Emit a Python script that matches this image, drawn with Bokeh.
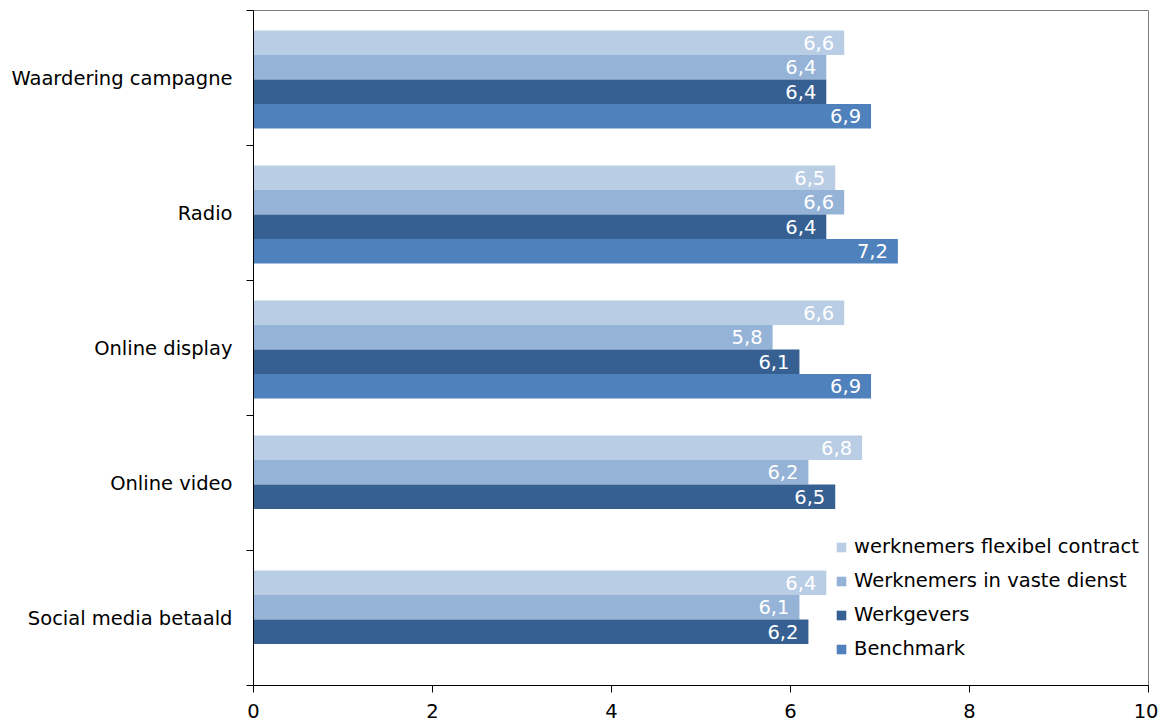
from bokeh.plotting import figure
from bokeh.models import ColumnDataSource, Range1d, FixedTicker, Legend, LegendItem, LabelSet
from bokeh.core.properties import value
from bokeh.embed import file_html
from bokeh.resources import INLINE

categories = ["Waardering campagne", "Radio", "Online display", "Online video", "Social media betaald"]
series = ["werknemers flexibel contract", "Werknemers in vaste dienst", "Werkgevers", "Benchmark"]
flexibel = [6.6, 6.5, 6.6, 6.8, 6.4]
vaste = [6.4, 6.6, 5.8, 6.2, 6.1]
werkgevers = [6.4, 6.4, 6.1, 6.5, 6.2]
benchmark = [6.9, 7.2, 6.9, None, None]
colors = ["#B9CDE5", "#95B3D7", "#366092", "#4F81BD"]
x_ticks = [0, 2, 4, 6, 8, 10]

FONT = "DejaVu Sans"
FS = "19.5px"
n = len(categories)
cat_px = 135.0
bar_h = 24.5 / cat_px

p = figure(frame_width=895, frame_height=675, output_backend="svg", toolbar_location=None,
           x_range=Range1d(0, 10), y_range=Range1d(0, n),
           min_border_left=253, min_border_top=10, min_border_right=10, min_border_bottom=36)
p.grid.visible = False
p.outline_line_color = "#7f7f7f"
p.background_fill_color = "white"
p.border_fill_color = "white"

items = []
for k, (name, vals, col) in enumerate(zip(series, [flexibel, vaste, werkgevers, benchmark], colors)):
    ys, xs, labels = [], [], []
    for i, v in enumerate(vals):
        if v is None:
            continue
        top = n - i
        yc = top - (20 + 24.5 * k + 12.25) / cat_px
        ys.append(yc)
        xs.append(v)
        labels.append(("%.1f" % v).replace(".", ","))
    src = ColumnDataSource(dict(y=ys, right=xs, label=labels))
    r = p.hbar(y="y", right="right", left=0, height=bar_h, source=src,
               fill_color=col, line_color=None)
    items.append(LegendItem(label=name, renderers=[r]))
    ls = LabelSet(x="right", y="y", text="label", source=src, x_offset=-10,
                  text_align="right", text_baseline="middle", text_color="white",
                  text_font=value(FONT), text_font_size=value(FS))
    p.add_layout(ls)

legend = Legend(items=items, location=(582, 25), glyph_width=12, glyph_height=12,
                label_text_font=FONT, label_text_font_size=FS, label_text_color="#000000",
                spacing=11, padding=4, border_line_color=None, background_fill_alpha=0,
                label_standoff=7)
p.add_layout(legend)

p.xaxis.ticker = FixedTicker(ticks=x_ticks)
p.xaxis.major_label_text_font = FONT
p.xaxis.major_label_text_font_size = FS
p.xaxis.major_label_text_color = "black"
p.xaxis.axis_line_color = "black"
p.xaxis.major_tick_line_color = "black"
p.xaxis.major_tick_out = 7
p.xaxis.major_tick_in = 0
p.xaxis.minor_tick_line_color = None
p.xaxis.major_label_standoff = 11

centers = [n - i - 0.5 for i in range(n)]
p.yaxis.ticker = FixedTicker(ticks=centers, minor_ticks=list(range(n + 1)))
p.yaxis.major_label_overrides = {c: categories[i] for i, c in enumerate(centers)}
p.yaxis.major_label_text_font = FONT
p.yaxis.major_label_text_font_size = FS
p.yaxis.major_label_text_color = "black"
p.yaxis.axis_line_color = "black"
p.yaxis.major_tick_line_color = None
p.yaxis.minor_tick_line_color = "black"
p.yaxis.minor_tick_out = 7
p.yaxis.minor_tick_in = 0
p.yaxis.major_label_standoff = 14

open("out.html", "w").write(file_html(p, INLINE))
